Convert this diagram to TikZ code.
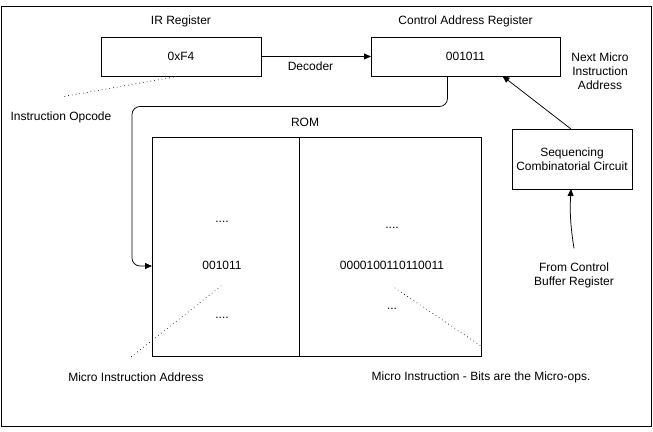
\documentclass[tikz,border=0pt]{standalone}
\usepackage{fontspec}
\setmainfont{Liberation Sans}
\usetikzlibrary{arrows.meta,calc}
\begin{document}
\begin{tikzpicture}[x=1pt,y=-1pt,
  font=\fontsize{12}{14}\selectfont,
  every node/.style={inner sep=0pt, outer sep=0pt},
  box/.style={draw, line width=0.75pt},
  txt/.style={align=center},
  arr/.style={line width=0.75pt, -{Triangle[length=7pt,width=6pt]}},
  dotline/.style={line width=0.9pt, line cap=round, dash pattern=on 0pt off 3.8pt}]
\useasboundingbox (0,0) rectangle (653,431);
\node[box, minimum width=650pt, minimum height=420pt, anchor=north west] (frame) at (1,6) {};

% registers
\node[box, minimum width=160pt, minimum height=39pt] (ir) at (181,56.5) {0xF4};
\node[box, minimum width=189pt, minimum height=39pt] (car) at (465.5,56.5) {001011};
\node[txt] (irl) at (181,21) {IR Register};
\node[txt] (carl) at (465.5,21) {Control Address Register};
\draw[arr] (ir.east) -- node[pos=0.45, yshift=-9.5pt] (dec) {Decoder} (car.west);

\node[txt] (nmia) at (600,71) {Next Micro\\Instruction\\Address};

% sequencing
\node[box, minimum width=120pt, minimum height=60pt, txt] (seq) at (572,159) {Sequencing\\Combinatorial Circuit};
\draw[arr] ([xshift=-1pt]seq.north) -- ([xshift=37pt]car.south);
\node[txt] (fcb) at (574,275) {From Control\\Buffer Register};
\draw[arr] ([yshift=14pt]fcb.north) to[bend left=6] ([xshift=-1pt]seq.south);

% ROM
\node[box, minimum width=147pt, minimum height=219pt, anchor=north west] (romL) at (152,137) {};
\node[box, minimum width=182pt, minimum height=219pt, anchor=north west] (romR) at (romL.north east) {};
\node[txt] (roml) at (305,122) {ROM};

\node (d1) at (222,222) {....};
\node (a1) at (222,265) {001011};
\node (d2) at (222,318) {....};
\node (d3) at (392,228) {....};
\node (m1) at (392,265) {0000100110110011};
\node (d4) at (392,309) {...};

% connector CAR -> ROM
\draw[arr, rounded corners=8pt] ([xshift=-18pt]car.south) |- (132,106.5) |- (romL.west |- 0,266);

% labels
\node (opc) at (61,117) {Instruction Opcode};
\node (mia) at (136,377) {Micro Instruction Address};
\node (mi) at (481,377) {Micro Instruction - Bits are the Micro-ops.};

% dotted pointers
\coordinate (p1) at (177,76.5);
\coordinate (p2) at (61,97);
\draw[dotline] (p1) -- (p2);
\coordinate (q1) at (221,286);
\coordinate (q2) at (131,357);
\draw[dotline] (q1) -- (q2);
\coordinate (r1) at (395,288);
\coordinate (r2) at (481,346);
\draw[dotline] (r1) -- (r2);
\end{tikzpicture}
\end{document}
